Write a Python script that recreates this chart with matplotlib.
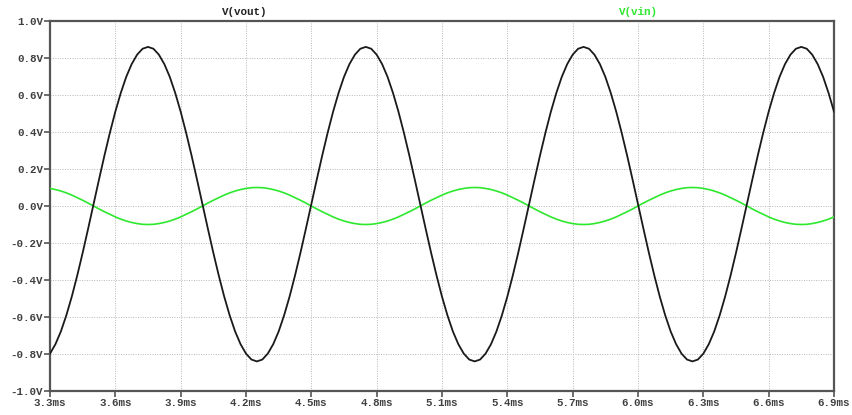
import matplotlib.pyplot as plt
import numpy as np

# transient samples, 0.025 ms apart from 3.3 ms to 6.9 ms
t_ms = np.linspace(3.3, 6.9, 145)

# one 1 ms cycle of each node, starting at the V(vout) peak
vout_period = [0.860, 0.850, 0.818, 0.767, 0.698, 0.611, 0.510, 0.396, 0.273, 0.143,
               0.010, -0.123, -0.253, -0.376, -0.490, -0.591, -0.678, -0.747, -0.798, -0.830,
               -0.840, -0.830, -0.798, -0.747, -0.678, -0.591, -0.490, -0.376, -0.253, -0.123,
               0.010, 0.143, 0.273, 0.396, 0.510, 0.611, 0.698, 0.767, 0.818, 0.850]
vin_period = [-0.100, -0.099, -0.095, -0.089, -0.081, -0.071, -0.059, -0.045, -0.031, -0.016,
              0.000, 0.016, 0.031, 0.045, 0.059, 0.071, 0.081, 0.089, 0.095, 0.099,
              0.100, 0.099, 0.095, 0.089, 0.081, 0.071, 0.059, 0.045, 0.031, 0.016,
              0.000, -0.016, -0.031, -0.045, -0.059, -0.071, -0.081, -0.089, -0.095, -0.099]

vout = vout_period[22:] + vout_period * 3 + vout_period[:7]
vin = vin_period[22:] + vin_period * 3 + vin_period[:7]

xticks = [3.3, 3.6, 3.9, 4.2, 4.5, 4.8, 5.1, 5.4, 5.7, 6.0, 6.3, 6.6, 6.9]
yticks = [-1.0, -0.8, -0.6, -0.4, -0.2, 0.0, 0.2, 0.4, 0.6, 0.8, 1.0]

mono = 'Liberation Mono'
green = '#2ee82e'
axis_col = '#555555'
label_col = '#404040'

fig = plt.figure(figsize=(8.53, 4.15), dpi=100)
ax = fig.add_axes([50 / 853, 1 - 391 / 415, 784 / 853, 370 / 415])

ax.plot(t_ms, vin, color=green, lw=1.2, zorder=3)
ax.plot(t_ms, vout, color='#1a1a1a', lw=1.3, zorder=4)

ax.set_xlim(3.3, 6.9)
ax.set_ylim(-1.0, 1.0)
ax.set_xticks(xticks)
ax.set_yticks(yticks)
ax.set_xticklabels([f'{x:.1f}ms' for x in xticks])
ax.set_yticklabels([f'{y:.1f}V' for y in yticks])

ax.grid(True, color='#b8b8b8', linestyle=(0, (1, 1.5)), lw=0.7)
for s in ax.spines.values():
    s.set_color(axis_col)
    s.set_linewidth(1.6)

ax.tick_params(axis='both', direction='out', length=4, width=1.2, color=axis_col,
               labelcolor=label_col, labelsize=7.8, pad=1)
for lab in ax.get_xticklabels() + ax.get_yticklabels():
    lab.set_family(mono)
    lab.set_fontweight('bold')

ax.text(245 / 853, 1 - 12 / 415, 'V(vout)', transform=fig.transFigure, ha='center', va='center',
        family=mono, fontweight='bold', fontsize=7.8, color='#222222')
ax.text(638 / 853, 1 - 12 / 415, 'V(vin)', transform=fig.transFigure, ha='center', va='center',
        family=mono, fontweight='bold', fontsize=7.8, color=green)

fig.savefig('out.png', dpi=100)
